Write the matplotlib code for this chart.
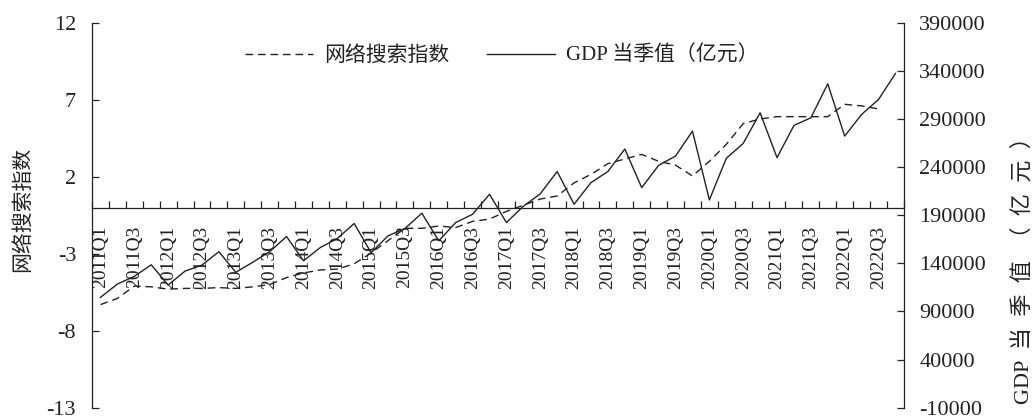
import matplotlib.pyplot as plt

# 2011Q1 - 2022Q4
quarters = [f'{y}Q{q}' for y in range(2011, 2023) for q in range(1, 5)]

# 网络搜索指数 (左轴), 2011Q1 - 2022Q3
search_index = [-6.3, -5.9, -5.1, -5.15,
                -5.3, -5.25, -5.25, -5.2,
                -5.25, -5.15, -5.0, -4.55,
                -4.25, -4.05, -4.0, -3.65,
                -2.95, -2.15, -1.35, -1.35,
                -1.2, -1.3, -0.9, -0.75,
                -0.25, 0.15, 0.55, 0.75,
                1.6, 2.15, 2.85, 3.15,
                3.45, 3.0, 2.75, 2.05,
                3.0, 4.1, 5.45, 5.75,
                5.9, 5.9, 5.9, 5.9,
                6.7, 6.6, 6.4]

# GDP 当季值 (亿元, 右轴)
gdp = [104700, 118500, 126500, 138500,
       117500, 132000, 138200, 152100,
       130700, 141100, 152100, 167900,
       142700, 156500, 165800, 181400,
       151000, 168600, 176200, 192100,
       163400, 182400, 191000, 211800,
       182400, 199300, 212200, 235400,
       201400, 223900, 235400, 258800,
       218700, 241800, 251500, 277400,
       205900, 249100, 264600, 296400,
       249800, 283300, 291200, 326500,
       272200, 294700, 310200, 337200]

plt.rcParams['font.family'] = ['Liberation Serif', 'Noto Sans CJK SC']
plt.rcParams['axes.unicode_minus'] = False
ink = '#222222'

fig, ax = plt.subplots(figsize=(10.33, 4.18), dpi=100)
fig.subplots_adjust(left=0.0891, right=0.875, bottom=0.0245, top=0.9457)
ax2 = ax.twinx()

x = list(range(len(quarters)))
l1, = ax.plot(x[:len(search_index)], search_index, color=ink, lw=1.0,
              dashes=(5.5, 3.5), label='网络搜索指数')
l2, = ax2.plot(x, gdp, color=ink, lw=1.0, label='GDP 当季值（亿元）')

ax.set_xlim(-0.5, len(quarters) - 0.5)
ax.set_ylim(-13, 12)
ax.set_yticks(range(-13, 13, 5))
ax2.set_ylim(-10000, 390000)
ax2.set_yticks(range(-10000, 390001, 50000))

# spines
for s in ['top', 'right']:
    ax.spines[s].set_visible(False)
for s in ['top', 'bottom', 'left']:
    ax2.spines[s].set_visible(False)
ax.spines['bottom'].set_position(('data', 0))
for a, s in [(ax, 'left'), (ax, 'bottom'), (ax2, 'right')]:
    a.spines[s].set_color(ink)
    a.spines[s].set_linewidth(0.9)

# x ticks: marks on the boundaries, labels every other quarter
ax.set_xticks([i - 0.5 for i in range(len(quarters) + 1)])
ax.tick_params(axis='x', which='major', direction='in', length=5,
               width=0.9, color=ink, labelbottom=False)
ax.set_xticks(x[::2], minor=True)
ax.set_xticklabels(quarters[::2], minor=True, rotation=90, fontsize=14,
                   color=ink)
ax.tick_params(axis='x', which='minor', length=0, pad=13)

ax.tick_params(axis='y', direction='in', length=5, width=0.9, color=ink,
               labelsize=16, labelcolor=ink, pad=11.5)
ax2.tick_params(axis='y', direction='in', length=5, width=0.9, color=ink,
                labelsize=16, labelcolor=ink, pad=11)

ax.set_ylabel('网络搜索指数', fontsize=15, color=ink)
ax.yaxis.set_label_coords(-0.0727, 0.514)
# the right-hand title is spread out along the axis in the original
ax2.set_ylabel('  '.join(['GDP', '当', '季', '值', '（', '亿', '元', '）']),
               fontsize=16, color=ink)
ax2.yaxis.set_label_coords(1.134, 0.372)

ax2.legend([l1, l2], [l1.get_label(), l2.get_label()], loc='center left',
           bbox_to_anchor=(0.165, 0.914), ncol=2, frameon=False, fontsize=15,
           handlelength=3.3, handletextpad=0.5, columnspacing=1.8,
           labelcolor=ink)

plt.savefig('out.png')
